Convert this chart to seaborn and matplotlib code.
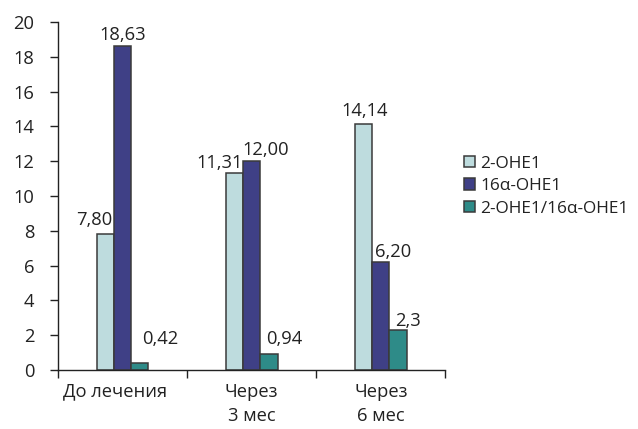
import matplotlib
matplotlib.use("Agg")
import matplotlib.pyplot as plt
import matplotlib.transforms as mtransforms
import seaborn as sns
import pandas as pd
from matplotlib.ticker import FixedLocator, MultipleLocator

categories = ["До лечения", "Через\n3 мес", "Через\n6 мес"]
series_names = ["2-OHE1", "16α-OHE1", "2-OHE1/16α-OHE1"]
v_2ohe1 = [7.80, 11.31, 14.14]
v_16ohe1 = [18.63, 12.00, 6.20]
v_ratio = [0.42, 0.94, 2.3]
value_labels = [["7,80", "11,31", "14,14"],
                ["18,63", "12,00", "6,20"],
                ["0,42", "0,94", "2,3"]]

colors = ["#B9E1E3", "#333592", "#1F9A96"]
# label offsets in points (per series, per category)
label_dx = [[-8, -11, 0.7], [0, 10, 8.6], [14.4, 10.8, 7.5]]
label_dy = [[7, 3.6, 5.8], [4.3, 4.3, 3.6], [13.7, 7.2, 2.9]]

rows = []
for name, vals in zip(series_names, [v_2ohe1, v_16ohe1, v_ratio]):
    for cat, v in zip(categories, vals):
        rows.append({"cat": cat, "series": name, "value": v})
df = pd.DataFrame(rows)

sns.set_theme(style="white")
plt.rcParams["font.family"] = ["Open Sans", "DejaVu Sans"]
FS = 13.2
TXT = "#222222"

fig = plt.figure(figsize=(6.38, 4.29), dpi=100)
ax = fig.add_axes([0.091, 0.1375, 0.607, 0.8112])

sns.barplot(data=df, x="cat", y="value", hue="series", order=categories,
            hue_order=series_names, palette=colors, width=0.4, gap=0,
            edgecolor="#3a3a3a", linewidth=1.1, ax=ax, legend=True)

ax.set_xlim(-0.5, 2.5)
ax.set_ylim(0, 20)
ax.yaxis.set_major_locator(MultipleLocator(2))
ax.set_xlabel("")
ax.set_ylabel("")
for s in ["top", "right"]:
    ax.spines[s].set_visible(False)
for s in ["left", "bottom"]:
    ax.spines[s].set_color(TXT)
    ax.spines[s].set_linewidth(1.0)

ax.tick_params(axis="y", which="major", direction="out", length=6, width=1,
               color=TXT, labelsize=FS, labelcolor=TXT, left=True, pad=11)
ax.xaxis.set_minor_locator(FixedLocator([-0.5, 0.5, 1.5, 2.5]))
ax.tick_params(axis="x", which="major", length=0, labelsize=FS,
               labelcolor=TXT, pad=9)
ax.tick_params(axis="x", which="minor", bottom=True, direction="out",
               length=6, width=1, color=TXT)
xlabels = ax.get_xticklabels()
for lbl in xlabels:
    lbl.set_multialignment("center")
    lbl.set_linespacing(1.45)
# first category label sits slightly left of its slot
xlabels[0].set_transform(xlabels[0].get_transform() +
                         mtransforms.ScaledTranslation(-0.08, 0, fig.dpi_scale_trans))

for i, cont in enumerate(ax.containers):
    for j, bar in enumerate(cont):
        x = bar.get_x() + bar.get_width() / 2
        y = bar.get_height()
        ax.annotate(value_labels[i][j], (x, y),
                    xytext=(label_dx[i][j], label_dy[i][j]),
                    textcoords="offset points", ha="center", va="baseline",
                    fontsize=FS, color=TXT)

handles, labels = ax.get_legend_handles_labels()
ax.get_legend().remove()
fig.legend(handles, series_names, loc="center left", bbox_to_anchor=(0.716, 0.566),
           frameon=False, fontsize=12.4, handlelength=0.65, handleheight=0.65,
           handletextpad=0.3, labelspacing=0.38, borderaxespad=0,
           labelcolor=TXT)

fig.savefig("out.png", dpi=100)
